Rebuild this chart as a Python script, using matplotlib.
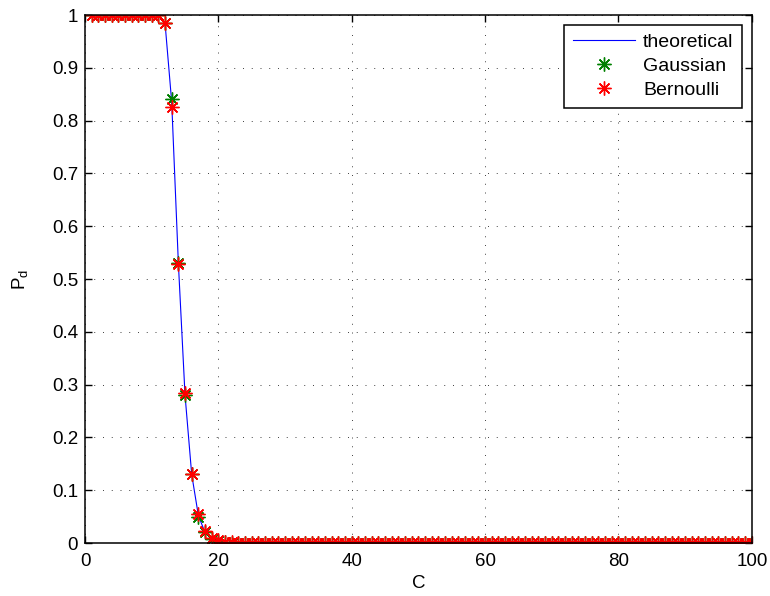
import numpy as np
import matplotlib
matplotlib.use("Agg")
import matplotlib.pyplot as plt

plt.rcParams['font.family'] = ['Liberation Sans', 'DejaVu Sans']
plt.rcParams['mathtext.fontset'] = 'custom'
plt.rcParams['mathtext.rm'] = 'Liberation Sans'
plt.rcParams['mathtext.it'] = 'Liberation Sans'

C = list(range(1, 101))

# values, C = 1..25; beyond that everything sits at 0
theory_head = [1.0] * 11 + [0.985, 0.835, 0.53, 0.28, 0.13, 0.052, 0.02, 0.007,
                            0.002, 0.0006, 0.0002, 0.0, 0.0, 0.0]
gauss_head = [1.0] * 11 + [0.985, 0.84, 0.53, 0.28, 0.13, 0.05, 0.02, 0.008,
                           0.003, 0.001, 0.0, 0.0, 0.0, 0.0]
bern_head = [1.0] * 11 + [0.985, 0.825, 0.528, 0.285, 0.13, 0.055, 0.022, 0.01,
                          0.005, 0.002, 0.001, 0.0, 0.0, 0.0]

theoretical = theory_head + [0.0] * 75
gaussian = gauss_head + [0.0] * 75
bernoulli = bern_head + [0.0] * 75

fig = plt.figure(figsize=(7.7, 5.96), dpi=100)
ax = fig.add_axes([0.1104, 0.0889, 0.866, 0.8859])

ax.plot(C, theoretical, color=(0, 0, 1), lw=0.8, label='theoretical')
ax.plot(C, gaussian, ls='none', marker=(8, 2, 0), ms=10, mew=1.0,
        color=(0, 0.5, 0), label='Gaussian')
ax.plot(C, bernoulli, ls='none', marker=(8, 2, 0), ms=10, mew=1.0,
        color=(1, 0, 0), label='Bernoulli')

ax.set_xlim(0, 100)
ax.set_ylim(0, 1)
ax.set_xticks(range(0, 101, 20))
ax.set_yticks(np.arange(0, 1.01, 0.1))
ax.set_yticklabels(['0', '0.1', '0.2', '0.3', '0.4', '0.5', '0.6', '0.7', '0.8', '0.9', '1'])
ax.tick_params(direction='in', top=True, right=True, length=5, width=1,
               labelsize=13.5, pad=5)
ax.tick_params(axis='x', pad=7)
for s in ax.spines.values():
    s.set_linewidth(1.1)
ax.grid(True, color='0.25', ls=(0, (1, 8)), lw=0.7)

ax.set_xlabel('C', fontsize=13.5, labelpad=4)
ax.set_ylabel(r'$\mathregular{P_d}$', fontsize=13.5, labelpad=16)

leg = ax.legend(loc='upper right', fontsize=14, frameon=True, fancybox=False,
                edgecolor='black', framealpha=1, borderaxespad=0.5,
                handlelength=3.2, handletextpad=0.4, labelspacing=0.32,
                borderpad=0.45)
leg.get_frame().set_linewidth(1.1)

fig.savefig('out.png', dpi=100)
